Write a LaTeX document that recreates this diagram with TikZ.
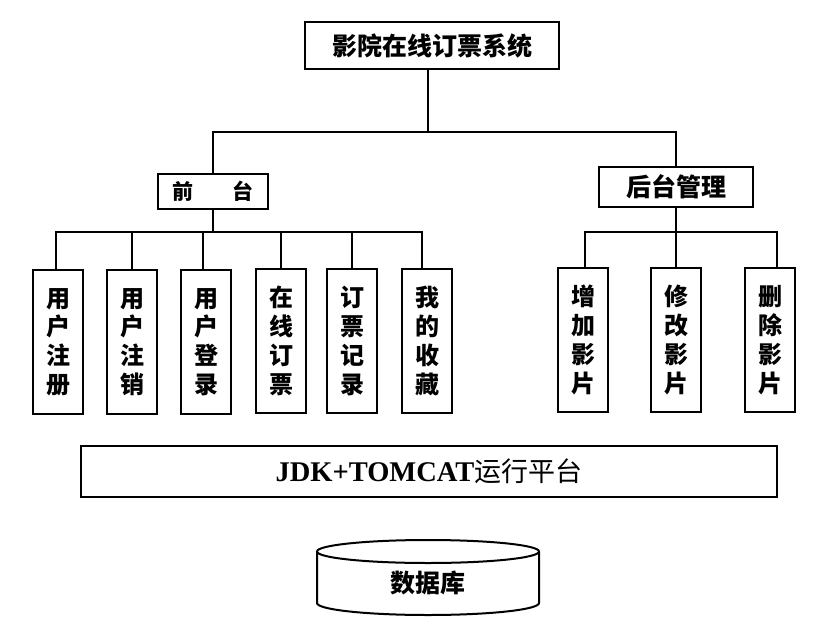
\documentclass[tikz,border=0pt]{standalone}
\usepackage{fontspec}
\setmainfont{Liberation Serif}
\newfontfamily\cjk{Noto Sans CJK SC}
\begin{document}
\begin{tikzpicture}[x=1pt,y=1pt,
  box/.style={draw, line width=2pt, inner sep=0pt, fill=white,
    font=\cjk\bfseries\fontsize{25}{29}\selectfont},
  vbox/.style={box, align=center, minimum width=50pt, minimum height=144pt,
    font=\cjk\bfseries\fontsize{24}{28.8}\selectfont},
  wire/.style={line width=1.8pt, line cap=rect}]
\useasboundingbox[fill=white] (0,0) rectangle (828,-630);

% top level
\node[box, minimum width=254pt, minimum height=47pt] (title) at (432,-45.5) {影院在线订票系统};
\node[box, minimum width=110pt, minimum height=35pt,
  font=\cjk\bfseries\fontsize{21}{24}\selectfont] (front) at (213,-191.5) {前\hspace{20pt}\hspace{20pt}台};
\node[box, minimum width=154pt, minimum height=40pt] (back) at (676,-187) {后台管理};

% front-end modules
\node[vbox] (c1) at (58,-342) {用\\户\\注\\册};
\node[vbox] (c2) at (132,-342) {用\\户\\注\\销};
\node[vbox] (c3) at (206,-342) {用\\户\\登\\录};
\node[vbox] (c4) at (281,-341) {在\\线\\订\\票};
\node[vbox] (c5) at (352,-341) {订\\票\\记\\录};
\node[vbox] (c6) at (427,-341) {我\\的\\收\\藏};

% back-end modules
\node[vbox] (r1) at (583,-340) {增\\加\\影\\片};
\node[vbox] (r2) at (676,-340) {修\\改\\影\\片};
\node[vbox] (r3) at (770,-340) {删\\除\\影\\片};

% platform
\node[box, minimum width=696pt, minimum height=51pt,
  font=\fontsize{28.5}{32}\selectfont] (jdk) at (429,-471.5)
  {\textbf{JDK+TOMCAT}{\cjk\fontsize{27}{32}\selectfont 运行平台}};

% database cylinder
\draw[line width=2pt] (317,-551.5) -- (317,-603)
  arc[start angle=180, end angle=360, x radius=111pt, y radius=12pt] -- (539,-551.5);
\draw[line width=2pt] (428,-551.5) ellipse[x radius=111pt, y radius=11.5pt];
\node[font=\cjk\bfseries\fontsize{25}{29}\selectfont] (db) at (428,-583) {数据库};

% connectors
\coordinate (bus) at (428,-132);
\coordinate (lbus) at (213,-232);
\coordinate (rbus) at (676,-232);
\draw[wire] ([xshift=-4pt]title.south) -- ([xshift=-4pt]title.south |- bus);
\draw[wire] (front.north) -- (front.north |- bus) -- (back.north |- bus) -- (back.north);
\draw[wire] (front.south) -- (front.south |- lbus);
\draw[wire] ([xshift=-2pt]c1.north) -- ([xshift=-2pt]c1.north |- lbus)
  -- ([xshift=-5pt]c6.north |- lbus) -- ([xshift=-5pt]c6.north);
\foreach \n in {c2,c4,c5} \draw[wire] (\n.north) -- (\n.north |- lbus);
\draw[wire] ([xshift=-3pt]c3.north) -- ([xshift=-3pt]c3.north |- lbus);
\draw[wire] (back.south) -- (back.south |- rbus);
\draw[wire] ([xshift=2pt]r1.north) -- ([xshift=2pt]r1.north |- rbus)
  -- ([xshift=7pt]r3.north |- rbus) -- ([xshift=7pt]r3.north);
\draw[wire] (r2.north) -- (r2.north |- rbus);
\end{tikzpicture}
\end{document}
